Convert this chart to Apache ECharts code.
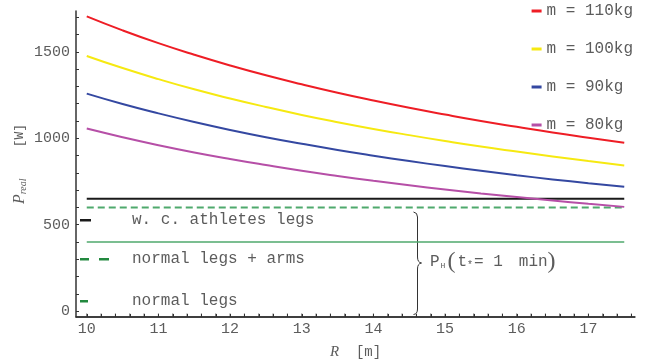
<!DOCTYPE html>
<html>
<head>
<meta charset="utf-8">
<script src="https://cdn.jsdelivr.net/npm/echarts@6/dist/echarts.min.js"></script>
<style>
  html, body { margin: 0; padding: 0; background: #fff; }
  #chart { width: 651px; height: 363px; }
</style>
</head>
<body>
<div id="chart"></div>
<script>
// Radius of the bend R [m]
const radius = [10, 10.5, 11, 11.5, 12, 12.5, 13, 13.5, 14, 14.5, 15, 15.5, 16, 16.5, 17, 17.5];

// Real power P_real [W] for each rider mass
const p110 = [1705, 1624, 1550, 1483, 1421, 1364, 1312, 1263, 1218, 1176, 1137, 1100, 1066, 1033, 1003, 974];
const p100 = [1476, 1406, 1342, 1283, 1230, 1181, 1135, 1093, 1054, 1018, 984, 952, 923, 895, 868, 843];
const p90  = [1258, 1198, 1144, 1094, 1048, 1006, 968, 932, 899, 868, 839, 812, 786, 762, 740, 719];
const p80  = [1056, 1006, 960, 918, 880, 845, 812, 782, 754, 728, 704, 681, 660, 640, 621, 603];
const massNames = ['m = 110kg', 'm = 100kg', 'm = 90kg', 'm = 80kg'];

// Human power levels P_H (t* = 1 min) [W]
const athletesLegs = 650;
const legsArms = 600;
const normalLegs = 400;
const levelRange = [10, 17.5];

// Axis ranges, labelled values and tick marks
const xRange = [9.85, 17.65];
const yRange = [-34, 1736];
const xLabels = [10, 11, 12, 13, 14, 15, 16, 17];
const xTicks = [10, 10.2, 10.4, 10.6, 10.8, 11, 11.2, 11.4, 11.6, 11.8, 12, 12.2, 12.4, 12.6, 12.8,
                13, 13.2, 13.4, 13.6, 13.8, 14, 14.2, 14.4, 14.6, 14.8, 15, 15.2, 15.4, 15.6, 15.8,
                16, 16.2, 16.4, 16.6, 16.8, 17, 17.2, 17.4, 17.6];
const yLabels = [0, 500, 1000, 1500];
const yTicks = [0, 100, 200, 300, 400, 500, 600, 700, 800, 900, 1000, 1100, 1200, 1300, 1400,
                1500, 1600, 1700];

const MONO = '"Liberation Mono", "DejaVu Sans Mono", monospace';
const TXT = '#5c5c5c';
const AXIS = '#333';
const colors = ['#ee1d25', '#f6e911', '#3448a1', '#b64fa7'];

const pairs = (xs, ys) => xs.map((x, i) => [x, ys[i]]);
const level = v => levelRange.map(x => [x, v]);
const plain = v => String(v);

const curves = [p110, p100, p90, p80].map((ys, i) => ({
  name: massNames[i],
  type: 'line',
  smooth: true,
  showSymbol: false,
  data: pairs(radius, ys),
  lineStyle: { color: colors[i], width: 2 },
  itemStyle: { color: colors[i] },
  z: 3
}));

const levels = [
  { v: athletesLegs, color: '#1a1a1a', type: 'solid', width: 2 },
  { v: legsArms, color: '#4fa96d', type: [7, 4], width: 2 },
  { v: normalLegs, color: '#4fa96d', type: 'solid', width: 1.6 }
].map(l => ({
  type: 'line',
  showSymbol: false,
  silent: true,
  data: level(l.v),
  lineStyle: { color: l.color, width: l.width, type: l.type },
  z: 2
}));

// baseline and tick marks along the bottom edge of the plot
const frame = [
  {
    type: 'line', silent: true, showSymbol: false, clip: false, z: 5,
    data: xRange.map(x => [x, yRange[0]]),
    lineStyle: { color: AXIS, width: 1.5 }
  },
  {
    type: 'scatter', silent: true, clip: false, z: 5,
    data: xTicks.map(x => [x, yRange[0]]),
    symbol: 'rect', symbolSize: [1, 3], symbolOffset: [0, -2],
    itemStyle: { color: AXIS }
  }
];

// curly brace grouping the three power levels
const brace = [
  { type: 'bezierCurve', shape: { x1: 413.5, y1: 212, cpx1: 417.5, cpy1: 212.5, x2: 417.5, y2: 217 } },
  { type: 'line', shape: { x1: 417.5, y1: 217, x2: 417.5, y2: 257 } },
  { type: 'bezierCurve', shape: { x1: 417.5, y1: 257, cpx1: 417.5, cpy1: 262.5, x2: 421.5, y2: 263 } },
  { type: 'bezierCurve', shape: { x1: 421.5, y1: 263, cpx1: 417.5, cpy1: 263.5, x2: 417.5, y2: 269 } },
  { type: 'line', shape: { x1: 417.5, y1: 269, x2: 417.5, y2: 309 } },
  { type: 'bezierCurve', shape: { x1: 417.5, y1: 309, cpx1: 417.5, cpy1: 314, x2: 413.5, y2: 314.5 } }
].map(g => Object.assign(g, { silent: true, style: { stroke: AXIS, lineWidth: 1, fill: null } }));

const chart = echarts.init(document.getElementById('chart'), null, { renderer: 'canvas' });
chart.setOption({
  animation: false,
  backgroundColor: '#fff',
  grid: { left: 76, right: 16, top: 11, bottom: 46, containLabel: false, outerBoundsMode: 'none' },
  xAxis: {
    type: 'value', min: xRange[0], max: xRange[1], position: 'bottom',
    splitLine: { show: false },
    name: '{i|R}{n|  [m]}',
    nameLocation: 'middle',
    nameGap: 28,
    nameMoveOverlap: false,
    nameTextStyle: {
      color: TXT,
      rich: {
        i: { fontFamily: 'Liberation Serif', fontStyle: 'italic', fontSize: 15, color: TXT },
        n: { fontFamily: MONO, fontSize: 14, color: TXT }
      }
    },
    axisLine: { show: true, onZero: false, lineStyle: { color: AXIS, width: 1.5 } },
    axisTick: { show: true, inside: true, length: 3, customValues: xTicks, lineStyle: { color: AXIS } },
    axisLabel: { customValues: xLabels, formatter: plain, margin: 5, fontFamily: MONO, fontSize: 15, color: TXT }
  },
  yAxis: {
    type: 'value', min: yRange[0], max: yRange[1],
    splitLine: { show: false },
    name: '{i|P}{s|real}{n|    [W]}',
    nameLocation: 'middle',
    nameGap: 48,
    nameRotate: 90,
    nameMoveOverlap: false,
    nameTextStyle: {
      color: TXT,
      rich: {
        i: { fontFamily: 'Liberation Serif', fontStyle: 'italic', fontSize: 16, color: TXT },
        s: { fontFamily: 'Liberation Serif', fontStyle: 'italic', fontSize: 10, color: TXT, padding: [6, 0, 0, 0] },
        n: { fontFamily: MONO, fontSize: 13, color: TXT }
      }
    },
    axisLine: { show: true, onZero: false, lineStyle: { color: AXIS, width: 1.5 } },
    axisTick: { show: true, inside: true, length: 3, customValues: yTicks, lineStyle: { color: AXIS } },
    axisLabel: { customValues: yLabels, formatter: plain, margin: 6, fontFamily: MONO, fontSize: 15, color: TXT }
  },
  legend: {
    data: massNames,
    orient: 'vertical',
    right: 13,
    top: -2,
    itemGap: 22,
    itemWidth: 10,
    itemHeight: 3,
    icon: 'rect',
    align: 'left',
    textStyle: { fontFamily: MONO, fontSize: 16, color: TXT, lineHeight: 16 }
  },
  graphic: [
    // key for the power levels
    { type: 'rect', shape: { x: 80, y: 219, width: 11, height: 2.5 }, style: { fill: '#1a1a1a' } },
    { type: 'rect', shape: { x: 80, y: 258, width: 9, height: 2.5 }, style: { fill: '#23893f' } },
    { type: 'rect', shape: { x: 99, y: 258, width: 10, height: 2.5 }, style: { fill: '#23893f' } },
    { type: 'rect', shape: { x: 80, y: 300, width: 8, height: 2.5 }, style: { fill: '#23893f' } },
    { type: 'text', x: 132, y: 212, style: { text: 'w. c. athletes legs', font: '16px ' + MONO, fill: TXT } },
    { type: 'text', x: 132, y: 251, style: { text: 'normal legs + arms', font: '16px ' + MONO, fill: TXT } },
    { type: 'text', x: 132, y: 293, style: { text: 'normal legs', font: '16px ' + MONO, fill: TXT } },
    {
      type: 'text', x: 430, y: 250,
      style: {
        text: '{p|P}{sub|H}{par|(}{t|t}{star|*}{t|= 1}{gap| }{t|min}{par|)}',
        rich: {
          p: { fontFamily: MONO, fontSize: 16, fill: TXT },
          t: { fontFamily: MONO, fontSize: 16, fill: TXT },
          sub: { fontFamily: MONO, fontSize: 8, fill: TXT, padding: [8, 2, 0, 1] },
          star: { fontFamily: MONO, fontSize: 10, fill: TXT, padding: [6, 1, 0, 0] },
          gap: { fontFamily: MONO, fontSize: 16, width: 16 },
          par: { fontFamily: 'Liberation Serif', fontSize: 24, fill: TXT, padding: [0, 2, 0, 0] }
        }
      }
    }
  ].concat(brace),
  series: curves.concat(levels, frame)
});
</script>
</body>
</html>
